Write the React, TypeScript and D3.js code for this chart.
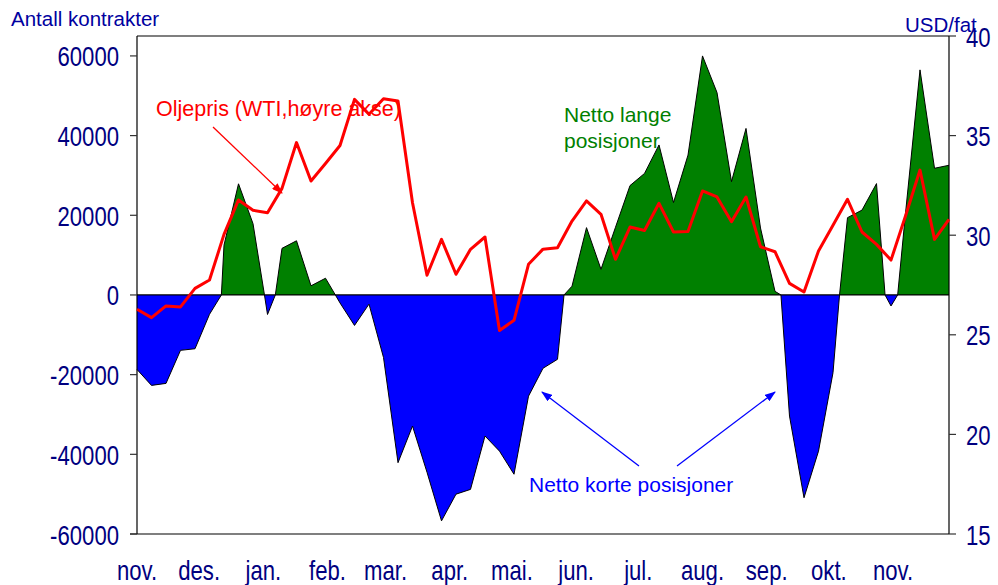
import React from 'react';
import * as d3 from 'd3';

// weekly observations, first one 1 Nov 2002
const startDate = new Date(2002, 10, 1);
const weekCount = 57;

const monthLabels = ['nov.', 'des.', 'jan.', 'feb.', 'mar.', 'apr.', 'mai.', 'jun.', 'jul.', 'aug.', 'sep.', 'okt.', 'nov.'];
const leftTicks = [-60000, -40000, -20000, 0, 20000, 40000, 60000];
const rightTicks = [15, 20, 25, 30, 35, 40];

// net positions (contracts), one per week
const netPositions = [
  -18700, -22700, -22200, -13900, -13500, -4850, 12500, 27900, 17900, -4900,
  11700, 13600, 2300, 4200, -2000, -7650, -2300, -15700, -42100, -32900,
  -44500, -56700, -50000, -48800, -35400, -39200, -45000, -25400, -18400, -16150,
  2200, 16900, 6440, 17000, 27450, 30500, 37650, 23200, 35100, 60000,
  50800, 28450, 41800, 16800, 900, -30400, -50900, -39200, -19500, 19400,
  21300, 27950, -2760, 20500, 56500, 31800, 32550,
];

// where the net position line meets zero (week index)
const zeroCrossings = [5.82, 8.79, 9.54, 13.68, 29.45, 44.41, 48.45, 51.59, 52.46];

// WTI oil price, USD per barrel
const oilPrice = [
  26.28, 25.86, 26.45, 26.4, 27.33, 27.75, 30.04, 31.77, 31.25, 31.13,
  32.35, 34.65, 32.72, 33.6, 34.5, 36.82, 36.07, 36.85, 36.74, 31.63,
  27.99, 29.79, 28.04, 29.29, 29.91, 25.22, 25.73, 28.54, 29.3, 29.37,
  30.71, 31.72, 31.05, 28.79, 30.41, 30.24, 31.6, 30.16, 30.18, 32.22,
  31.92, 30.68, 31.92, 29.42, 29.17, 27.58, 27.15, 29.21, 30.5, 31.8,
  30.16, 29.54, 28.75, 30.96, 33.27, 29.79, 30.8,
];

const W = 998;
const H = 585;
const left = 137;
const right = 949;
const top = 36;
const bottom = 534;
const font = 'Liberation Sans, Arial, sans-serif';
const navy = '#000080';
const weekMs = 7 * 24 * 3600 * 1000;

const weekDate = (w: number) => new Date(startDate.getTime() + w * weekMs);

const Narrow = ({ x, y, anchor, children }: any) => (
  <text
    transform={`translate(${x},${y}) scale(0.82,1)`}
    textAnchor={anchor}
    fontFamily={font}
    fontSize={27}
    fill={navy}
  >
    {children}
  </text>
);

export default function App() {
  const x = d3.scaleTime().domain([startDate, weekDate(weekCount - 1)]).range([left, right]);
  const yL = d3.scaleLinear().domain([-60000, 65000]).range([bottom, top]);
  const yR = d3.scaleLinear().domain([15, 40]).range([bottom, top]);

  const netPts = netPositions
    .map((v, i) => ({ w: i, v }))
    .concat(zeroCrossings.map((w) => ({ w, v: 0 })))
    .sort((a, b) => a.w - b.w);

  const area = d3
    .area<{ w: number; v: number }>()
    .x((d) => x(weekDate(d.w)))
    .y0(yL(0))
    .y1((d) => yL(d.v));
  const netLine = d3
    .line<{ w: number; v: number }>()
    .x((d) => x(weekDate(d.w)))
    .y((d) => yL(d.v));
  const priceLine = d3
    .line<number>()
    .x((_, i) => x(weekDate(i)))
    .y((d) => yR(d));

  const months = d3.timeMonth.range(startDate, weekDate(weekCount - 1));
  const zeroY = yL(0);

  return (
    <svg width={W} height={H} style={{ position: 'absolute', left: 0, top: 0, background: '#fff' }}>
      <defs>
        <clipPath id="above">
          <rect x={left} y={top} width={right - left} height={zeroY - top} />
        </clipPath>
        <clipPath id="below">
          <rect x={left} y={zeroY} width={right - left} height={bottom - zeroY} />
        </clipPath>
        <marker id="headRed" markerUnits="userSpaceOnUse" markerWidth={11} markerHeight={8} refX={10} refY={4} orient="auto">
          <path d="M0,0 L11,4 L0,8 z" fill="#ff0000" />
        </marker>
        <marker id="headBlue" markerUnits="userSpaceOnUse" markerWidth={11} markerHeight={8} refX={10} refY={4} orient="auto">
          <path d="M0,0 L11,4 L0,8 z" fill="#0000ff" />
        </marker>
      </defs>

      {/* net positions */}
      <path d={area(netPts) || ''} fill="#008000" clipPath="url(#above)" />
      <path d={area(netPts) || ''} fill="#0000ff" clipPath="url(#below)" />
      <path d={netLine(netPts) || ''} fill="none" stroke="#000" strokeWidth={1} />
      <line x1={left} x2={right} y1={zeroY} y2={zeroY} stroke="#000" strokeWidth={1.2} />

      {/* frame and axes */}
      <line x1={left} x2={right} y1={top} y2={top} stroke="#000" strokeWidth={1.2} />
      <line x1={left - 7} x2={right} y1={bottom} y2={bottom} stroke="#555" strokeWidth={1.6} />
      <line x1={left} x2={left} y1={top} y2={bottom} stroke="#000" strokeWidth={1.2} />
      <line x1={right} x2={right} y1={top} y2={bottom} stroke="#000" strokeWidth={1.2} />

      {leftTicks.map((t) => (
        <g key={t}>
          <line x1={left - 7} x2={left} y1={yL(t)} y2={yL(t)} stroke="#333" strokeWidth={1.2} />
          <Narrow x={119} y={yL(t) + 10.5} anchor="end">
            {t}
          </Narrow>
        </g>
      ))}
      {rightTicks.map((t) => (
        <g key={t}>
          <line x1={right} x2={right + 7} y1={yR(t)} y2={yR(t)} stroke="#333" strokeWidth={1.2} />
          <Narrow x={966} y={yR(t) + 10.5} anchor="start">
            {t}
          </Narrow>
        </g>
      ))}
      {months.map((m, i) => (
        <Narrow key={i} x={x(m)} y={580} anchor="middle">
          {monthLabels[i]}
        </Narrow>
      ))}

      {/* oil price */}
      <path d={priceLine(oilPrice) || ''} fill="none" stroke="#ff0000" strokeWidth={3} strokeLinejoin="round" />

      {/* titles */}
      <text x={11} y={26} fontFamily={font} fontSize={20.5} fill="#0000a0">
        Antall kontrakter
      </text>
      <text x={905} y={32} fontFamily={font} fontSize={20.5} fill="#0000a0">
        USD/fat
      </text>

      {/* annotations */}
      <text x={156} y={116} fontFamily={font} fontSize={21.5} fill="#ff0000">
        Oljepris (WTI,høyre akse)
      </text>
      <line x1={213} y1={127} x2={282} y2={193} stroke="#ff0000" strokeWidth={1.3} markerEnd="url(#headRed)" />

      <text fontFamily={font} fontSize={21} fill="#008000">
        <tspan x={564} y={122}>Netto lange</tspan>
        <tspan x={564} y={148}>posisjoner</tspan>
      </text>

      <text x={529} y={492} fontFamily={font} fontSize={21} fill="#0000ff">
        Netto korte posisjoner
      </text>
      <line x1={639} y1={466} x2={542} y2={392} stroke="#0000ff" strokeWidth={1.3} markerEnd="url(#headBlue)" />
      <line x1={677} y1={466} x2={775} y2={392} stroke="#0000ff" strokeWidth={1.3} markerEnd="url(#headBlue)" />
    </svg>
  );
}
